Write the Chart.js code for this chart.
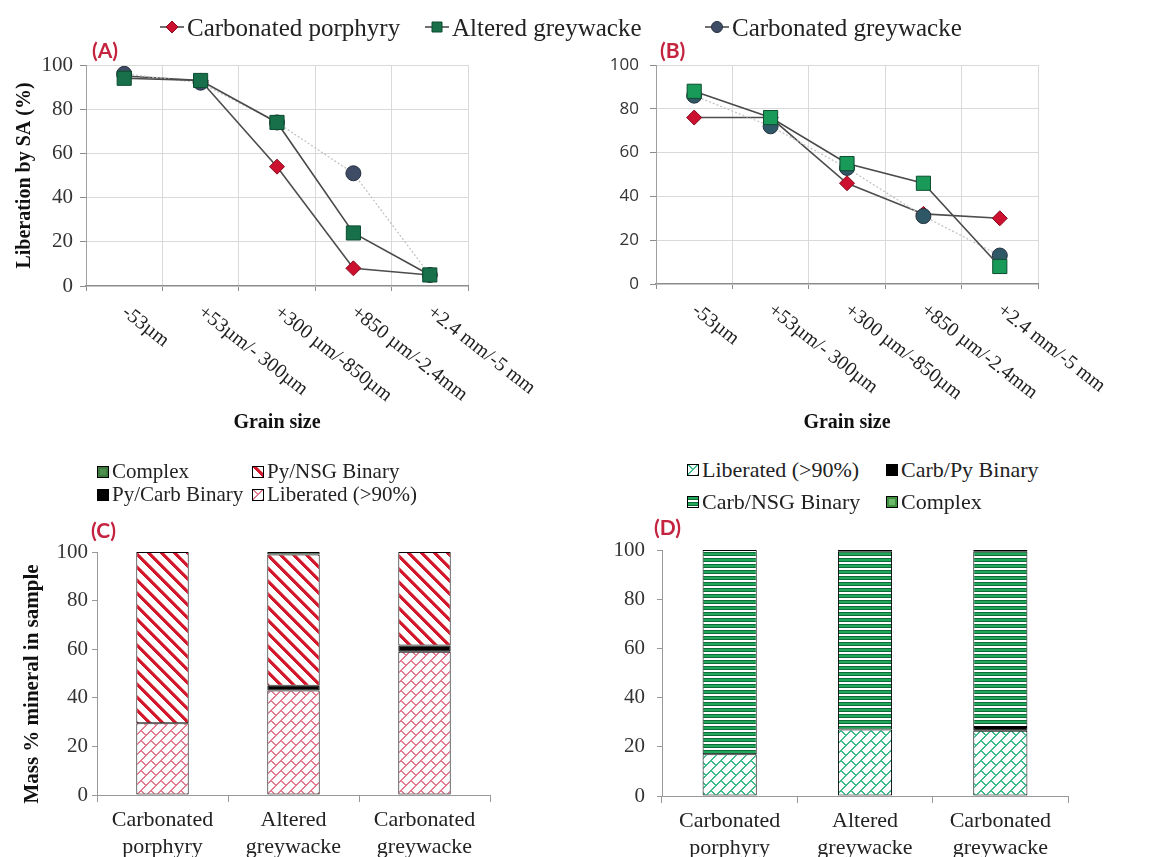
<!DOCTYPE html>
<html><head><meta charset="utf-8">
<script src="https://cdn.jsdelivr.net/npm/chart.js@4.4.1/dist/chart.umd.min.js"></script>
<style>
html,body{margin:0;padding:0;background:#fff;}
#root{position:relative;width:1151px;height:857px;overflow:hidden;background:#fff;font-family:"Liberation Serif","Times New Roman",serif;color:#222;}
.box{position:absolute;}
.lbl{position:absolute;font-family:'Lato','Open Sans',sans-serif;font-weight:bold;color:#c4243f;font-size:21px;line-height:1;}
.leg{position:absolute;white-space:nowrap;display:flex;align-items:center;line-height:1;color:#222;}
.leg canvas{display:block;margin-right:3px;}
</style></head>
<body>
<div id="root">
  <div class="box" style="left:0;top:40px;"><canvas id="cA" width="560" height="400"></canvas></div>
  <div class="box" style="left:570px;top:40px;"><canvas id="cB" width="581" height="400"></canvas></div>
  <div class="box" style="left:0;top:510px;"><canvas id="cC" width="575" height="347"></canvas></div>
  <div class="box" style="left:580px;top:510px;"><canvas id="cD" width="571" height="347"></canvas></div>
  <div class="lbl" style="left:92px;top:39px;">(A)</div>
  <div class="lbl" style="left:660px;top:39px;">(B)</div>
  <div class="lbl" style="left:91px;top:519px;">(C)</div>
  <div class="lbl" style="left:654px;top:516px;">(D)</div>
  <div id="legends"></div>
</div>
<script>
// ---------------- DATA ----------------
const grainSizes = ['-53µm', '+53µm/- 300µm', '+300 µm/-850µm', '+850 µm/-2.4mm', '+2.4 mm/-5 mm'];
const lineSeriesNames = ['Carbonated porphyry', 'Altered greywacke', 'Carbonated greywacke'];
const aPorphyry = [95, 93, 54, 8, 5];
const aAltered  = [94, 93, 74, 24, 5];
const aCarbGrey = [96, 92, 74, 51, 5];
const bPorphyry = [76, 76, 46, 32, 30];
const bAltered  = [88, 76, 55, 46, 8];
const bCarbGrey = [86, 72, 53, 31, 13];

const rockTypes = [['Carbonated', 'porphyry'], ['Altered', 'greywacke'], ['Carbonated', 'greywacke']];
const cSeriesNames = ['Liberated (>90%)', 'Py/Carb Binary', 'Py/NSG Binary', 'Complex'];
const cLiberated = [29.5, 43, 59];
const cPyCarb    = [0, 2, 2.5];
const cPyNSG     = [70.5, 54, 38.5];
const cComplex   = [0, 1, 0];
const dSeriesNames = ['Liberated (>90%)', 'Carb/Py Binary', 'Carb/NSG Binary', 'Complex'];
const dLiberated = [17, 27, 26.5];
const dCarbPy    = [0, 0, 1.5];
const dCarbNSG   = [83, 72.5, 71.5];
const dComplex   = [0, 0.5, 0.5];

const yMin = 0, yMax = 100, yStep = 20;

// ---------------- PATTERNS ----------------
function hex(c){return [parseInt(c.slice(1,3),16),parseInt(c.slice(3,5),16),parseInt(c.slice(5,7),16)];}
function makeTile(w,h,fn){
  const c=document.createElement('canvas');c.width=w;c.height=h;
  const g=c.getContext('2d');const img=g.createImageData(w,h);
  for(let y=0;y<h;y++)for(let x=0;x<w;x++){
    const col=hex(fn(x,y));const i=(y*w+x)*4;
    img.data[i]=col[0];img.data[i+1]=col[1];img.data[i+2]=col[2];img.data[i+3]=255;
  }
  g.putImageData(img,0,0);
  return g.createPattern(c,'repeat');
}
function brickPattern(lineCol){
  const S=20, H=10;
  return makeTile(S,S,(x,y)=>{
    const u=(x+y)%S, v=((x-y)%S+S)%S;
    const onLine=(u%H)<1.5;
    const band=u<H?0:1;
    const joint=((v-band*H+S)%S)<1.5;
    return (onLine||joint)?lineCol:'#ffffff';
  });
}
function stripePattern(col){
  const P=13;
  return makeTile(P,P,(x,y)=>{
    const v=((x-y)%P+P)%P;
    if(v<4) return col;
    if(v===4) return '#e9848c';
    return '#ffffff';
  });
}
function hStripePattern(){
  const rows=['#0f6b35','#22a85c','#22a85c','#0f6b35','#ffffff','#ffffff'];
  return makeTile(4,6,(x,y)=>rows[y]);
}
const patPinkBrick = brickPattern('#e27b90');
const patGreenBrick = brickPattern('#3dbb8a');
const patRedStripe = stripePattern('#d3182b');
const patGreenH = hStripePattern();

// ---------------- PLUGIN: rotated category labels ----------------
const serif='"Liberation Serif","Times New Roman",serif';
const rotLabels = {
  id:'rotLabels',
  afterDraw(chart,args,opts){
    if(!opts || !opts.enabled) return;
    const xs=chart.scales.x, ctx=chart.ctx;
    ctx.save();
    ctx.font=opts.font; ctx.fillStyle=opts.color;
    ctx.textAlign='left'; ctx.textBaseline='middle';
    xs.ticks.forEach((t,i)=>{
      const x=xs.getPixelForTick(i);
      ctx.save();
      ctx.translate(x+opts.dx, xs.top+opts.dy);
      ctx.rotate(opts.angle*Math.PI/180);
      ctx.fillText(xs.getLabelForValue(t.value),0,0);
      ctx.restore();
    });
    ctx.restore();
  }
};
Chart.register(rotLabels);

function lineDatasets(p,a,c,circleCol,squareCol){
  return [
    {label:lineSeriesNames[0],data:p,borderColor:'#4d4d4d',borderWidth:1.6,tension:0,fill:false,
     pointStyle:'rectRot',pointRadius:7.5,pointBackgroundColor:'#cc1030',pointBorderColor:'#8a0c20',pointBorderWidth:1,order:2},
    {label:lineSeriesNames[1],data:a,borderColor:'#4a4a4a',borderWidth:1.6,tension:0,fill:false,
     pointStyle:'rect',pointRadius:10,pointBackgroundColor:squareCol,pointBorderColor:'#0d4d30',pointBorderWidth:1,order:0},
    {label:lineSeriesNames[2],data:c,borderColor:'#c4c4c4',borderWidth:1.3,borderDash:[2,2],tension:0,fill:false,
     pointStyle:'circle',pointRadius:7.5,pointBackgroundColor:circleCol,pointBorderColor:'#25303f',pointBorderWidth:1,order:1}
  ];
}

function lineChart(id,datasets,cfg){
  return new Chart(document.getElementById(id),{
    type:'line',
    data:{labels:grainSizes,datasets},
    options:{
      responsive:false,devicePixelRatio:1,animation:false,
      layout:{padding:{left:0,top:25,right:cfg.padRight,bottom:5}},
      plugins:{legend:{display:false},tooltip:{enabled:false},
        rotLabels:{enabled:true,font:'20px '+serif,color:'#222',dx:0,dy:24,angle:38}},
      scales:{
        x:{type:'category',offset:true,
          grid:{offset:true,color:'#d9d9d9',tickColor:'#8c8c8c',tickLength:5},
          border:{color:'#8c8c8c',width:1.2},
          ticks:{display:false},
          title:{display:true,text:'Grain size',color:'#111',padding:0,font:{family:serif,size:20,weight:'bold'}},
          afterFit(s){s.height=cfg.xHeight;}},
        y:{min:yMin,max:yMax,
          ticks:{stepSize:yStep,color:'#333',padding:cfg.yPad,font:cfg.yFont},
          grid:{color:'#d9d9d9',tickColor:'#8c8c8c',tickLength:6},
          border:{color:'#a0a0a0'},
          title:cfg.yTitle,
          afterFit(s){s.width=86;}}
      }
    }
  });
}

lineChart('cA',lineDatasets(aPorphyry,aAltered,aCarbGrey,'#3e4c66','#17704a'),{
  padRight:92,xHeight:149,yPad:7,yFont:{family:serif,size:21},
  yTitle:{display:true,text:'Liberation by SA (%)',color:'#111',padding:{top:13,bottom:0},font:{family:serif,size:20,weight:'bold'}}
});
lineChart('cB',lineDatasets(bPorphyry,bAltered,bCarbGrey,'#2f5866','#1a9a58'),{
  padRight:113,xHeight:151,yPad:11,yFont:{family:'Open Sans',size:17},
  yTitle:{display:false}
});

function barDatasets(names,vals,fills){
  return names.map((n,i)=>({label:n,data:vals[i],backgroundColor:fills[i],borderColor:'#000',borderWidth:1,
    borderSkipped:false,barPercentage:0.4,categoryPercentage:1}));
}
function barChart(id,datasets,cfg){
  return new Chart(document.getElementById(id),{
    type:'bar',
    data:{labels:rockTypes,datasets},
    options:{
      responsive:false,devicePixelRatio:1,animation:false,
      layout:{padding:{left:0,top:cfg.padTop,right:cfg.padRight,bottom:0}},
      plugins:{legend:{display:false},tooltip:{enabled:false}},
      scales:{
        x:{stacked:true,
          grid:{offset:true,drawOnChartArea:false,tickLength:7,color:'#999'},
          border:{color:'#999'},
          ticks:{color:'#222',padding:4,font:{family:serif,size:22,lineHeight:1.25}},
          afterFit(s){s.height=cfg.xHeight;}},
        y:{stacked:true,min:yMin,max:yMax,
          ticks:{stepSize:yStep,color:'#333',padding:cfg.yPad,font:{family:serif,size:21}},
          grid:{drawOnChartArea:false,tickLength:5,color:'#999'},
          border:{color:'#999'},
          title:cfg.yTitle,
          afterFit(s){s.width=cfg.yWidth;}}
      }
    }
  });
}
barChart('cC',barDatasets(cSeriesNames,[cLiberated,cPyCarb,cPyNSG,cComplex],[patPinkBrick,'#000000',patRedStripe,'#3d7a3d']),{
  padTop:42,padRight:85,xHeight:62,yWidth:97,yPad:4,
  yTitle:{display:true,text:'Mass % mineral in sample    ',color:'#111',padding:{top:20,bottom:0},font:{family:serif,size:21,weight:'bold'}}
});
barChart('cD',barDatasets(dSeriesNames,[dLiberated,dCarbPy,dCarbNSG,dComplex],[patGreenBrick,'#000000',patGreenH,'#3f8f3f']),{
  padTop:40,padRight:83,xHeight:61,yWidth:82,yPad:12,yTitle:{display:false}
});

// ---------------- HTML LEGENDS ----------------
const legRoot=document.getElementById('legends');
function addItem(x,y,swatch,text,size){
  const d=document.createElement('div');d.className='leg';
  d.style.left=x+'px';d.style.top=(y-size*0.6)+'px';d.style.height=(size*1.2)+'px';d.style.fontSize=size+'px';
  d.appendChild(swatch);
  const s=document.createElement('span');s.textContent=text;d.appendChild(s);
  legRoot.appendChild(d);
}
function swatch(fill,inner){
  const c=document.createElement('canvas');c.width=12;c.height=12;
  const g=c.getContext('2d');
  g.fillStyle=fill;g.fillRect(0,0,12,12);
  if(inner){g.fillStyle=inner;g.fillRect(3,3,6,6);}
  g.strokeStyle='#000';g.lineWidth=1;g.strokeRect(0.5,0.5,11,11);
  return c;
}
function lineMarker(style,fill,border){
  const c=document.createElement('canvas');c.width=24;c.height=16;
  const g=c.getContext('2d');
  g.strokeStyle='#4d4d4d';g.lineWidth=1.6;g.beginPath();g.moveTo(0,8);g.lineTo(24,8);g.stroke();
  g.fillStyle=fill;g.strokeStyle=border;g.lineWidth=1;g.beginPath();
  if(style==='diamond'){g.moveTo(12,2);g.lineTo(18,8);g.lineTo(12,14);g.lineTo(6,8);g.closePath();}
  else if(style==='square'){g.rect(7,3,10,10);}
  else {g.arc(12,8,5.5,0,Math.PI*2);}
  g.fill();g.stroke();
  return c;
}
// top legend
addItem(160,27,lineMarker('diamond','#cc1030','#8a0c20'),lineSeriesNames[0],25);
addItem(425,27,lineMarker('square','#17704a','#0d4d30'),lineSeriesNames[1],25);
addItem(705,27,lineMarker('circle','#3e4c66','#25303f'),lineSeriesNames[2],25);
// legend C
addItem(97,472,swatch('#3d7a3d','#4f8f4f'),'Complex',21);
addItem(252,472,swatch(patRedStripe),'Py/NSG Binary',21);
addItem(97,495,swatch('#000000'),'Py/Carb Binary',21);
addItem(252,495,swatch(patPinkBrick),'Liberated (>90%)',21);
// legend D
addItem(687,470,swatch(patGreenBrick),'Liberated (>90%)',22);
addItem(886,470,swatch('#000000'),'Carb/Py Binary',22);
addItem(687,502,swatch(patGreenH),'Carb/NSG Binary',22);
addItem(886,502,swatch('#3f8f3f','#6bb86b'),'Complex',22);
</script>
</body></html>
